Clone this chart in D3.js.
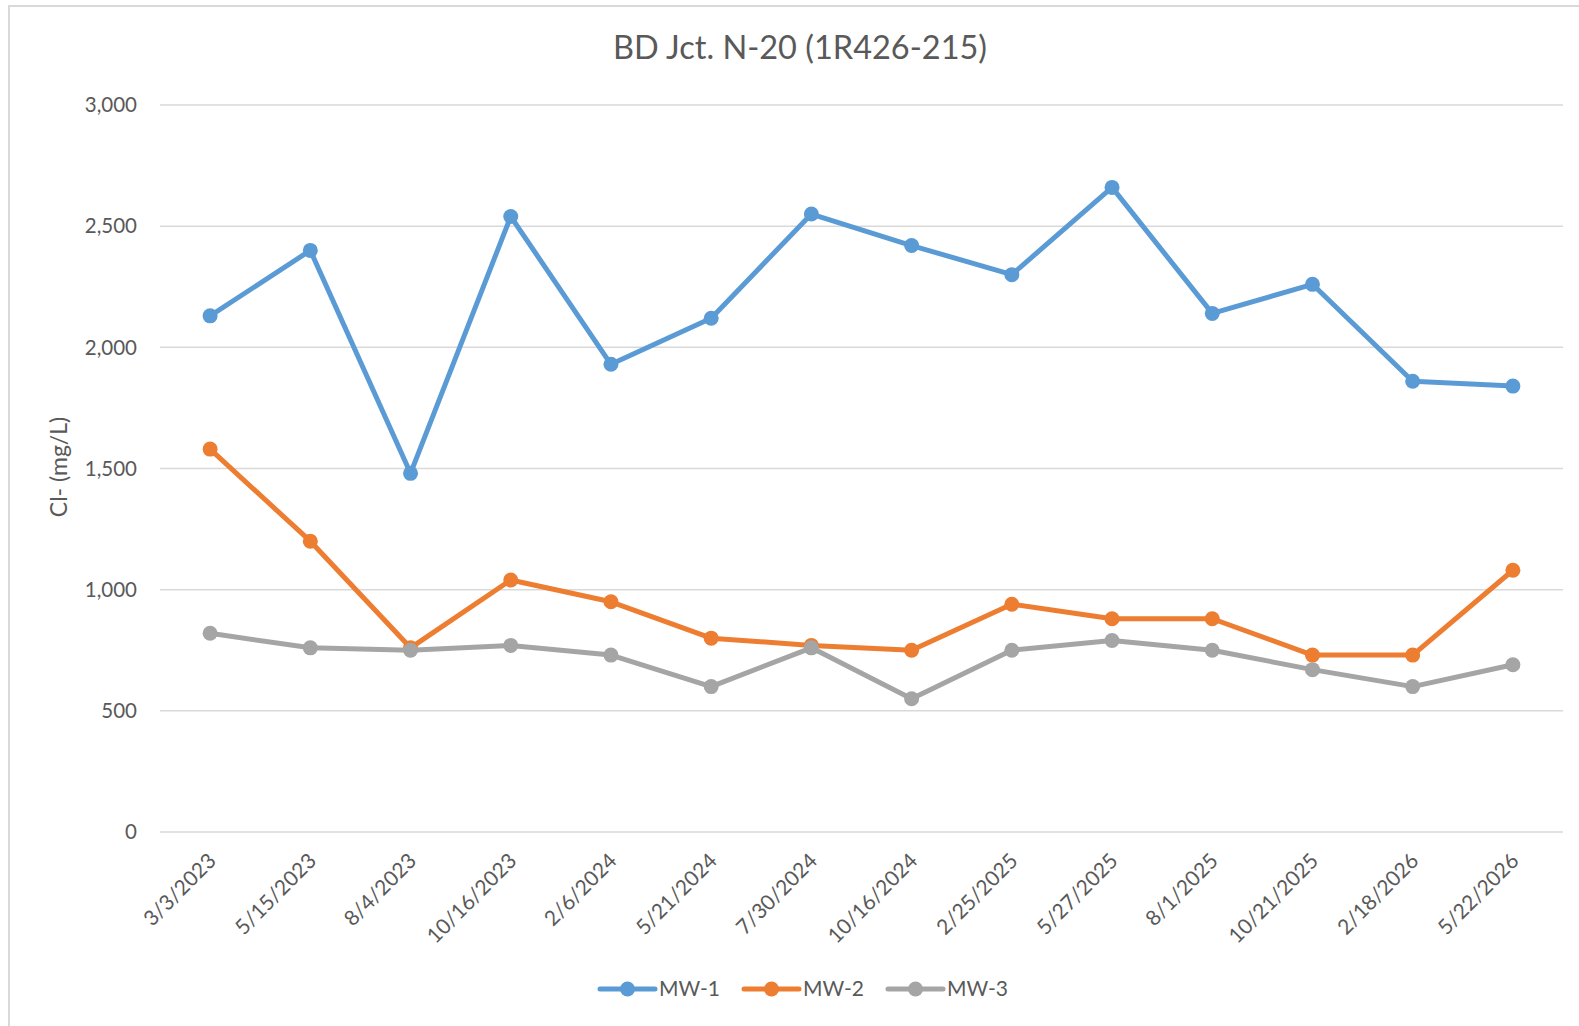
<!DOCTYPE html>
<html>
<head>
<meta charset="utf-8">
<script src="https://cdn.jsdelivr.net/npm/d3@7"></script>
<style>
  html, body { margin: 0; padding: 0; background: #fff; }
  svg { display: block; }
  text { font-family: Lato, "Open Sans", "Liberation Sans", sans-serif; fill: #595959; }
</style>
</head>
<body>
<script>
const categories = ["3/3/2023","5/15/2023","8/4/2023","10/16/2023","2/6/2024","5/21/2024","7/30/2024","10/16/2024","2/25/2025","5/27/2025","8/1/2025","10/21/2025","2/18/2026","5/22/2026"];
const mw1 = [2130,2400,1480,2540,1930,2120,2550,2420,2300,2660,2140,2260,1860,1840];
const mw2 = [1580,1200,760,1040,950,800,770,750,940,880,880,730,730,1080];
const mw3 = [820,760,750,770,730,600,760,550,750,790,750,670,600,690];
const seriesNames = ["MW-1","MW-2","MW-3"];
const seriesColors = ["#5B9BD5","#ED7D31","#A5A5A5"];
const yTicks = [0,500,1000,1500,2000,2500,3000];
const chartTitle = "BD Jct. N-20 (1R426-215)";
const yTitle = "Cl- (mg/L)";

const W = 1579, H = 1026;
const svg = d3.select("body").append("svg").attr("width", W).attr("height", H);

// chart border
svg.append("rect").attr("x", 9).attr("y", 6).attr("width", W + 10).attr("height", H + 10)
  .attr("fill", "none").attr("stroke", "#D9D9D9").attr("stroke-width", 2);

const plot = {left: 160, right: 1563, top: 105, bottom: 832};

const x = d3.scaleBand().domain(categories).range([plot.left, plot.right]);
const y = d3.scaleLinear().domain([0, 3000]).range([plot.bottom, plot.top]);

// gridlines
svg.append("g").selectAll("line").data(yTicks).join("line")
  .attr("x1", plot.left).attr("x2", plot.right)
  .attr("y1", d => y(d)).attr("y2", d => y(d))
  .attr("stroke", "#D9D9D9").attr("stroke-width", 1.5);

// y axis labels
const fmt = d3.format(",");
svg.append("g").selectAll("text").data(yTicks).join("text")
  .attr("x", 137).attr("y", d => y(d)).attr("dy", "0.35em")
  .attr("text-anchor", "end").attr("font-size", 20.5).text(d => fmt(d));

// x axis labels
svg.append("g").selectAll("text").data(categories).join("text")
  .attr("transform", d => `translate(${x(d) + x.bandwidth() / 2 + 2},${plot.bottom + 25}) rotate(-45)`)
  .attr("text-anchor", "end").attr("font-size", 21).attr("dy", "0.35em").text(d => d);

// title
svg.append("text").attr("x", 800).attr("y", 48).attr("dy", "0.35em")
  .attr("text-anchor", "middle").attr("font-size", 32.5).text(chartTitle);

// y title
svg.append("text").attr("transform", `translate(59,467) rotate(-90)`)
  .attr("text-anchor", "middle").attr("dy", "0.35em").attr("font-size", 23).text(yTitle);

// series
const allSeries = [mw1, mw2, mw3];
const cx = d => x(d) + x.bandwidth() / 2;
const line = d3.line().x(d => cx(d.c)).y(d => y(d.v));
allSeries.forEach((vals, i) => {
  const pts = categories.map((c, j) => ({c, v: vals[j]}));
  const g = svg.append("g");
  g.append("path").datum(pts).attr("d", line).attr("fill", "none")
    .attr("stroke", seriesColors[i]).attr("stroke-width", 5).attr("stroke-linejoin", "round").attr("stroke-linecap", "round");
  g.selectAll("circle").data(pts).join("circle")
    .attr("cx", d => cx(d.c)).attr("cy", d => y(d.v)).attr("r", 7.5)
    .attr("fill", seriesColors[i]);
});

// legend
const legendX = [600, 744, 888];
const legendY = 989;
const lg = svg.append("g");
seriesNames.forEach((name, i) => {
  const x0 = legendX[i];
  lg.append("line").attr("x1", x0).attr("x2", x0 + 55).attr("y1", legendY).attr("y2", legendY)
    .attr("stroke", seriesColors[i]).attr("stroke-width", 5).attr("stroke-linecap", "round");
  lg.append("circle").attr("cx", x0 + 27.5).attr("cy", legendY).attr("r", 7.5).attr("fill", seriesColors[i]);
  lg.append("text").attr("x", x0 + 59).attr("y", legendY).attr("dy", "0.35em").attr("font-size", 21).text(name);
});
</script>
</body>
</html>
